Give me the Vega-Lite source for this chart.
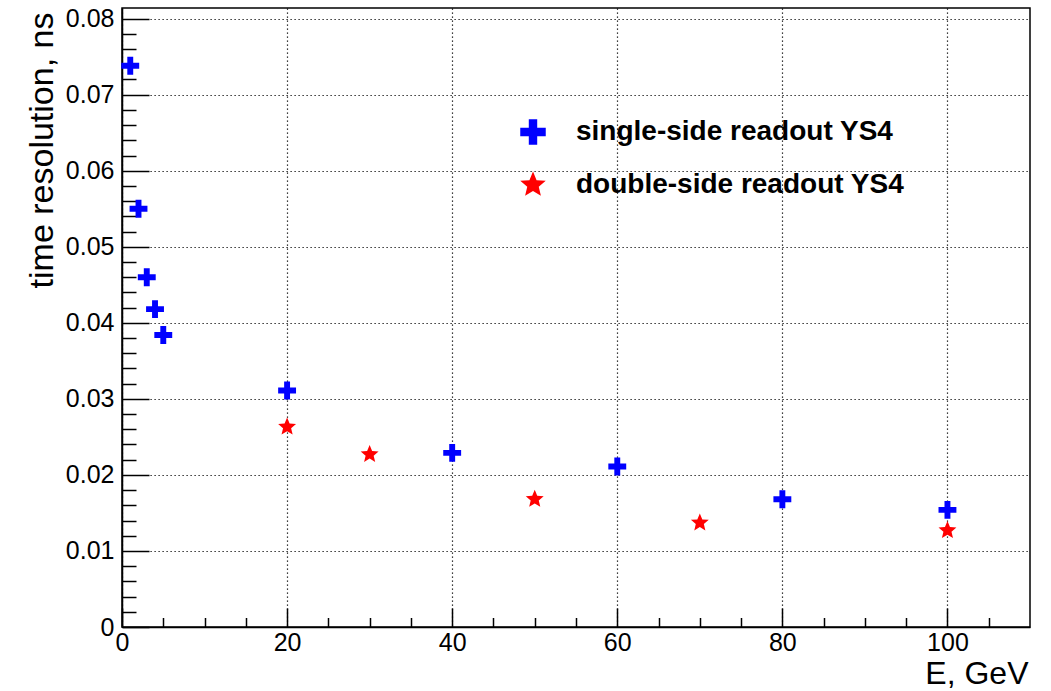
{
  "$schema": "https://vega.github.io/schema/vega-lite/v6.json",
  "width": 908,
  "height": 619,
  "autosize": {"type": "none"},
  "padding": {"left": 122, "top": 8, "right": 21, "bottom": 64},
  "background": "white",
  "config": {
    "view": {"stroke": "black", "strokeWidth": 1.5},
    "font": "Liberation Sans",
    "axis": {"labelFont": "Liberation Sans", "titleFont": "Liberation Sans", "labelColor": "black", "titleColor": "black", "tickColor": "black", "domainColor": "black"}
  },
  "resolve": {"axis": {"x": "independent", "y": "independent"}, "scale": {"x": "shared", "y": "shared"}},
  "data": {
    "values": [
      {"E": 1, "res": 0.0738, "series": "single-side readout YS4"},
      {"E": 2, "res": 0.0550, "series": "single-side readout YS4"},
      {"E": 3, "res": 0.0460, "series": "single-side readout YS4"},
      {"E": 4, "res": 0.0418, "series": "single-side readout YS4"},
      {"E": 5, "res": 0.0384, "series": "single-side readout YS4"},
      {"E": 20, "res": 0.0311, "series": "single-side readout YS4"},
      {"E": 40, "res": 0.0229, "series": "single-side readout YS4"},
      {"E": 60, "res": 0.0211, "series": "single-side readout YS4"},
      {"E": 80, "res": 0.0168, "series": "single-side readout YS4"},
      {"E": 100, "res": 0.0154, "series": "single-side readout YS4"},
      {"E": 20, "res": 0.0263, "series": "double-side readout YS4"},
      {"E": 30, "res": 0.0227, "series": "double-side readout YS4"},
      {"E": 50, "res": 0.0168, "series": "double-side readout YS4"},
      {"E": 70, "res": 0.0137, "series": "double-side readout YS4"},
      {"E": 100, "res": 0.0127, "series": "double-side readout YS4"}
    ]
  },
  "layer": [
    {
      "mark": {"type": "point", "opacity": 0},
      "encoding": {
        "x": {"field": "E", "type": "quantitative", "scale": {"domain": [0, 110], "nice": false, "zero": false},
          "axis": {"orient": "bottom", "values": [5,10,15,25,30,35,45,50,55,65,70,75,85,90,95,105], "tickSize": -9.5, "tickWidth": 1.5, "labels": false, "domain": false, "grid": false, "title": null}},
        "y": {"field": "res", "type": "quantitative", "scale": {"domain": [0, 0.0814], "nice": false, "zero": false},
          "axis": {"orient": "left", "values": [0.002,0.004,0.006,0.008,0.012,0.014,0.016,0.018,0.022,0.024,0.026,0.028,0.032,0.034,0.036,0.038,0.042,0.044,0.046,0.048,0.052,0.054,0.056,0.058,0.062,0.064,0.066,0.068,0.072,0.074,0.076,0.078], "tickSize": -14, "tickWidth": 1.5, "labels": false, "domain": false, "grid": false, "title": null}}
      }
    },
    {
      "mark": {"type": "point", "filled": true, "opacity": 1, "strokeWidth": 0},
      "encoding": {
        "x": {"field": "E", "type": "quantitative",
          "axis": {"orient": "bottom", "values": [0,20,40,60,80,100], "tickSize": -19, "tickWidth": 1.5, "labelFontSize": 25, "labelPadding": 22, "labelFlush": false,
            "grid": true, "gridColor": "black", "gridDash": [1.2, 2.8], "gridWidth": 1.2, "gridOpacity": 1,
            "domain": true, "domainWidth": 1.5,
            "title": "E, GeV", "titleFontSize": 32, "titleFontWeight": "normal", "titleX": 906, "titleY": 56, "titleAlign": "right", "titleBaseline": "alphabetic", "titleAnchor": "end"}},
        "y": {"field": "res", "type": "quantitative",
          "axis": {"orient": "left", "values": [0,0.01,0.02,0.03,0.04,0.05,0.06,0.07,0.08], "format": ".2~f", "tickSize": -27, "tickWidth": 1.5, "labelFontSize": 25, "labelPadding": 35, "labelFlush": false,
            "grid": true, "gridColor": "black", "gridDash": [1.2, 2.8], "gridWidth": 1.2, "gridOpacity": 1,
            "domain": true, "domainWidth": 1.5,
            "title": "time resolution, ns", "titleFontSize": 34, "titleFontWeight": "normal", "titleAngle": -90, "titleX": -70, "titleY": 4, "titleAlign": "right", "titleBaseline": "alphabetic", "titleAnchor": "end"}},
        "color": {"field": "series", "type": "nominal",
          "scale": {"domain": ["single-side readout YS4", "double-side readout YS4"], "range": ["#0000ff", "#ff0000"]},
          "legend": {"orient": "none", "legendX": 397, "legendY": 110, "title": null, "symbolSize": 650, "symbolStrokeWidth": 0, "labelFontSize": 28, "labelFontWeight": "bold", "labelFont": "Liberation Sans", "labelColor": "black", "labelLimit": 0, "rowPadding": 25, "labelOffset": 29, "padding": 0}},
        "shape": {"field": "series", "type": "nominal",
          "scale": {"domain": ["single-side readout YS4", "double-side readout YS4"], "range": ["M-0.33,-1H0.33V-0.33H1V0.33H0.33V1H-0.33V0.33H-1V-0.33H-0.33Z", "M0,-1.05L0.28,-0.38L1,-0.33L0.45,0.14L0.62,0.85L0,0.47L-0.62,0.85L-0.45,0.14L-1,-0.33L-0.28,-0.38Z"]},
          "legend": {"orient": "none", "legendX": 397, "legendY": 110, "title": null, "symbolSize": 650, "symbolStrokeWidth": 0, "labelFontSize": 28, "labelFontWeight": "bold", "labelFont": "Liberation Sans", "labelColor": "black", "labelLimit": 0, "rowPadding": 25, "labelOffset": 29, "padding": 0}},
        "size": {"value": 320}
      }
    }
  ]
}
